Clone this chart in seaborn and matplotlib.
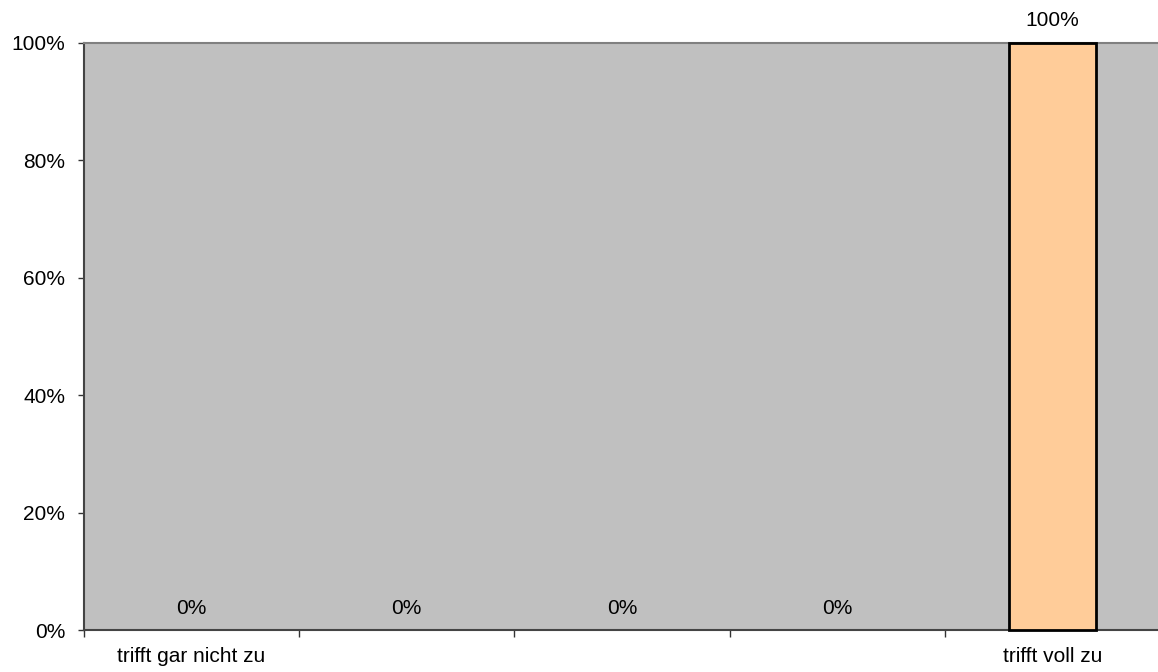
import matplotlib
matplotlib.use("Agg")
import matplotlib.pyplot as plt
import seaborn as sns
import pandas as pd
from matplotlib.ticker import FixedLocator, PercentFormatter

categories = ["trifft gar nicht zu", "2", "3", "4", "trifft voll zu"]
tick_labels = ["trifft gar nicht zu", "", "", "", "trifft voll zu"]
values = [0, 0, 0, 0, 100]

sns.set_style("white")
plt.rcParams['font.family'] = ['Liberation Sans', 'DejaVu Sans']
plt.rcParams['text.color'] = 'black'

df = pd.DataFrame({"cat": categories, "val": values})

fig = plt.figure(figsize=(11.58, 6.72), dpi=100)
ax = fig.add_axes([84/1158, 42/672, (1160-84)/1158, (630-43)/672])
ax.set_facecolor("#C0C0C0")

sns.barplot(data=df, x="cat", y="val", color="#FFCC99", edgecolor="black",
            linewidth=2, width=0.405, saturation=1, ax=ax, zorder=5)
for p in ax.patches:
    p.set_clip_on(False)
    if p.get_height() == 0:
        p.set_linewidth(0)

ax.set_xlim(-0.5, len(categories) - 0.5)
ax.set_ylim(0, 100)
ax.yaxis.set_major_formatter(PercentFormatter(decimals=0))
ax.set_yticks([0, 20, 40, 60, 80, 100])
ax.tick_params(axis="y", which="major", length=4.5, width=1, color="#333333",
               labelsize=15, labelcolor="black", pad=9, left=True)
ax.set_xticks(range(len(categories)))
ax.set_xticklabels(tick_labels)
ax.tick_params(axis="x", which="major", length=0, labelsize=15, labelcolor="black", pad=12)
ax.xaxis.set_minor_locator(FixedLocator([i - 0.5 for i in range(len(categories) + 1)]))
ax.tick_params(axis="x", which="minor", length=5, width=1, color="#333333", bottom=True)
ax.set_xlabel("")
ax.set_ylabel("")

for s in ["left", "bottom"]:
    ax.spines[s].set_color("#444444")
    ax.spines[s].set_linewidth(1.5)
ax.spines["top"].set_color("#808080")
ax.spines["top"].set_linewidth(1.5)
ax.spines["right"].set_visible(False)

for c in ax.containers:
    labels = ax.bar_label(c, labels=[f"{v:.0f}%" for v in values], padding=9, fontsize=15, color="black")
    for t in labels:
        t.set_clip_on(False)

fig.savefig("out.png", dpi=100)
